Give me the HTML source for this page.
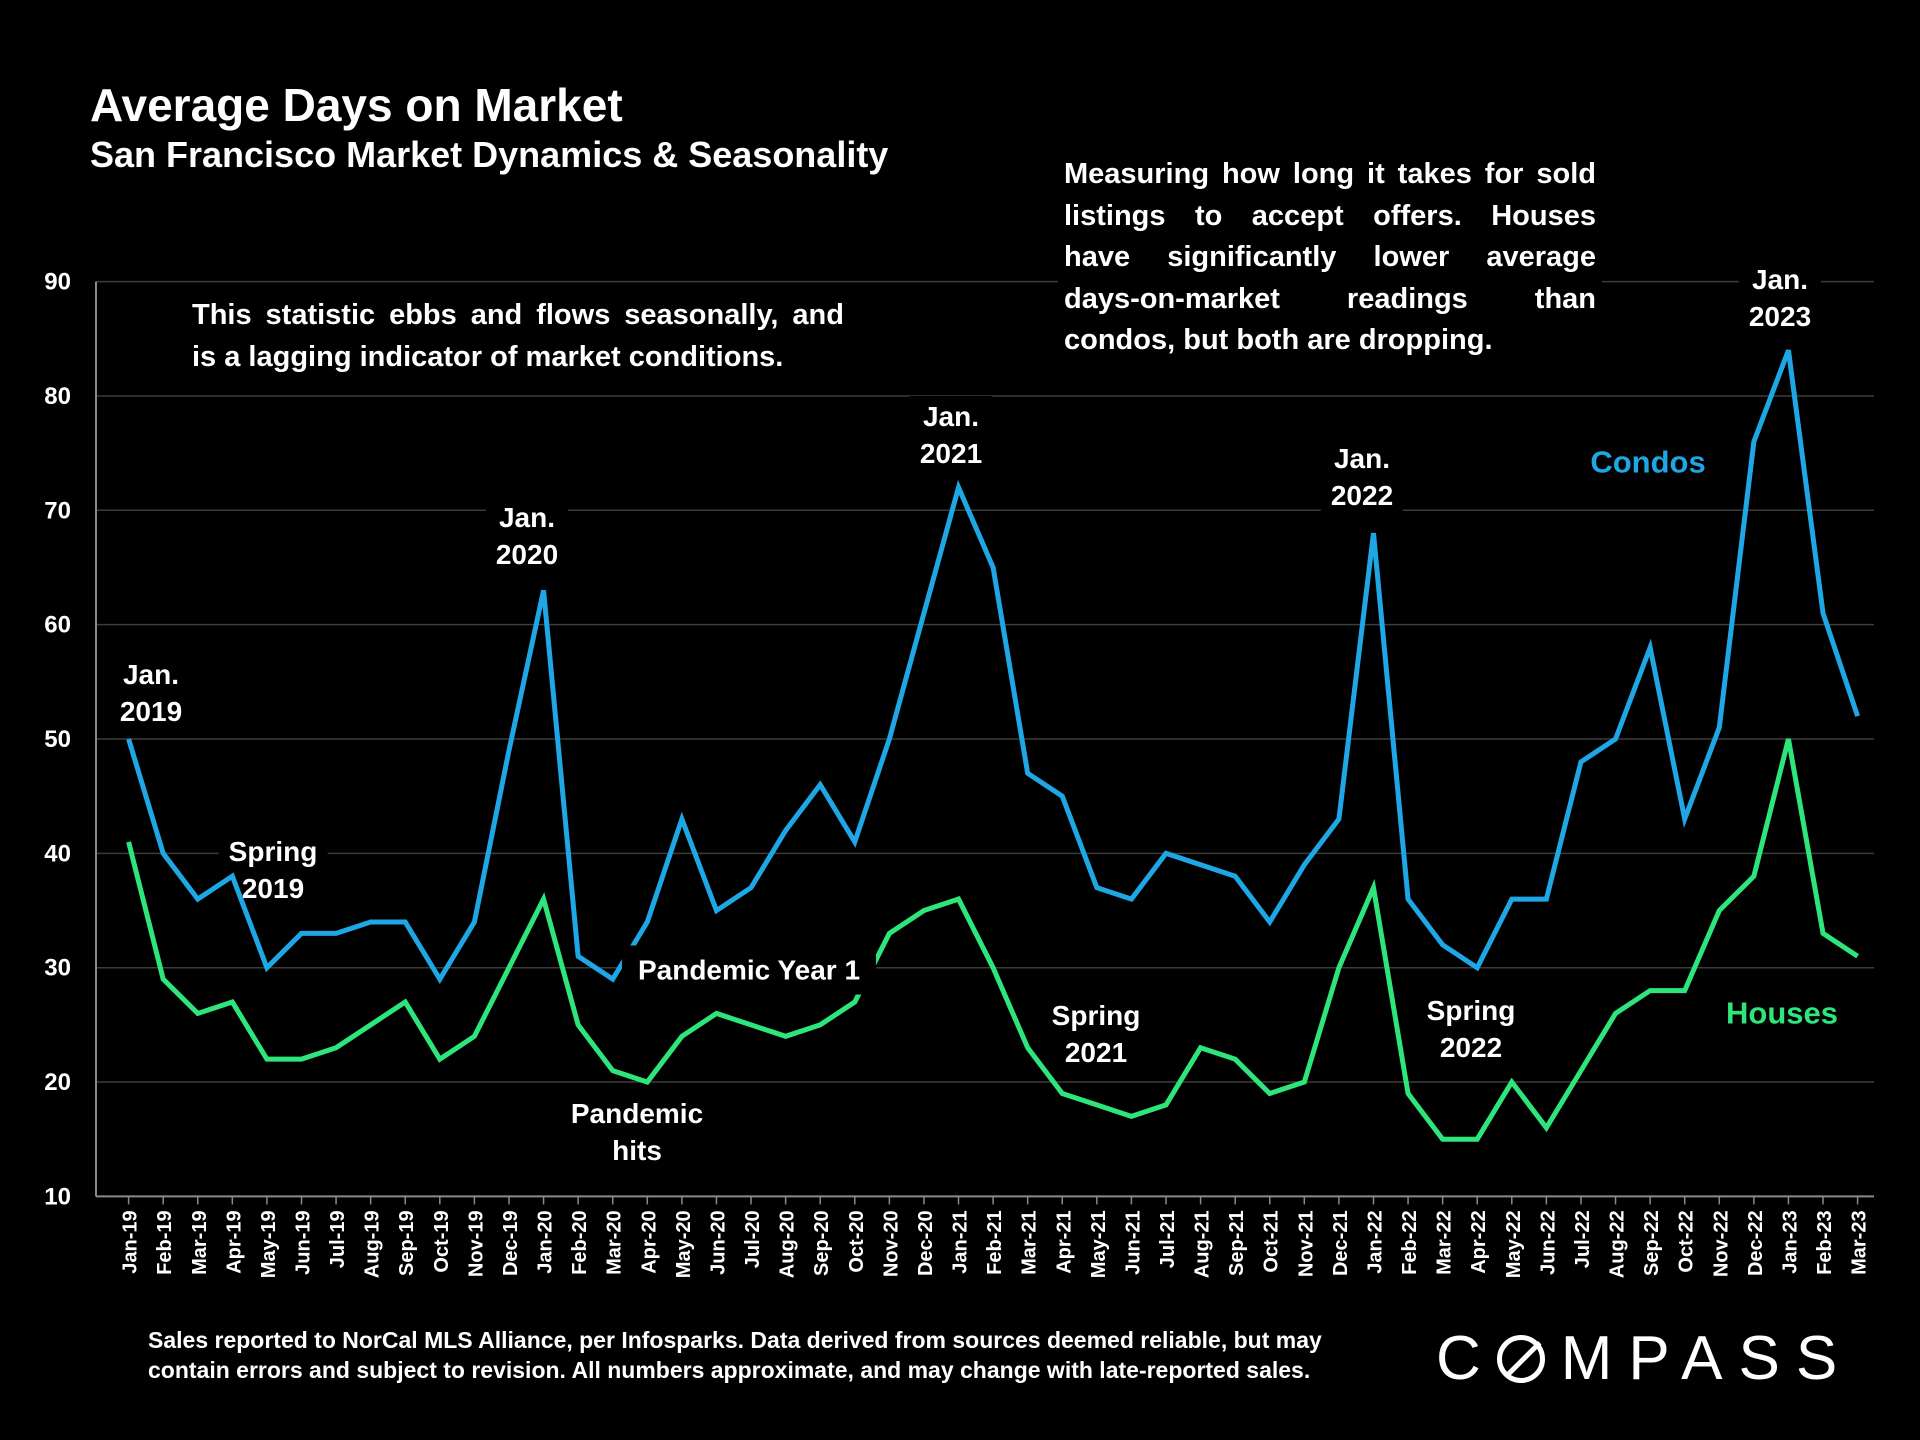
<!DOCTYPE html>
<html><head><meta charset="utf-8">
<style>
html,body{margin:0;padding:0;background:#000;}
#wrap{position:relative;width:1920px;height:1440px;background:#000;overflow:hidden;font-family:"Liberation Sans",sans-serif;color:#fff;}
.t{position:absolute;font-weight:bold;}
.lbl{position:absolute;transform:translate(-50%,-50%);background:#000;font-weight:bold;font-size:28px;line-height:37px;text-align:center;padding:2px 10px;white-space:nowrap;z-index:1;}
svg{position:absolute;left:0;top:0;}
#series{z-index:2;}
.jl{display:block;text-align:justify;text-align-last:justify;}
.ll{display:block;}
</style></head><body>
<div id="wrap">
<svg id="chart" width="1920" height="1440"></svg>
<svg id="series" width="1920" height="1440"></svg>
<div class="t" style="left:90px;top:78px;font-size:46px;">Average Days on Market</div>
<div class="t" style="left:90px;top:134px;font-size:36px;">San Francisco Market Dynamics &amp; Seasonality</div>
<div class="t" style="left:1058px;top:154px;width:532px;font-size:29px;line-height:41.6px;background:#000;padding:0 6px;z-index:1;"><span class="jl">Measuring how long it takes for sold</span><span class="jl">listings to accept offers. Houses</span><span class="jl">have significantly lower average</span><span class="jl">days-on-market readings than</span><span class="ll">condos, but both are dropping.</span></div>
<div class="t" style="left:186px;top:295px;width:652px;font-size:29px;line-height:41.6px;background:#000;padding:0 6px;z-index:1;"><span class="jl">This statistic ebbs and flows seasonally, and</span><span class="ll">is a lagging indicator of market conditions.</span></div>
<div class="lbl" style="left:151px;top:693px;">Jan.<br>2019</div>
<div class="lbl" style="left:273px;top:870px;">Spring<br>2019</div>
<div class="lbl" style="left:527px;top:536px;">Jan.<br>2020</div>
<div class="lbl" style="left:637px;top:1132px;">Pandemic<br>hits</div>
<div class="lbl" style="left:749px;top:970px;padding:6px 16px;z-index:3;">Pandemic Year 1</div>
<div class="lbl" style="left:951px;top:435px;">Jan.<br>2021</div>
<div class="lbl" style="left:1096px;top:1034px;">Spring<br>2021</div>
<div class="lbl" style="left:1362px;top:477px;">Jan.<br>2022</div>
<div class="lbl" style="left:1471px;top:1029px;">Spring<br>2022</div>
<div class="lbl" style="left:1780px;top:298px;">Jan.<br>2023</div>
<div class="lbl" style="left:1648px;top:462px;color:#1ea7e4;font-size:31px;">Condos</div>
<div class="lbl" style="left:1782px;top:1013px;color:#2ee57b;font-size:31px;">Houses</div>
<div class="t" style="left:148px;top:1325px;font-size:23px;line-height:30px;white-space:nowrap;">Sales reported to NorCal MLS Alliance, per Infosparks. Data derived from sources deemed reliable, but may<br>contain errors and subject to revision. All numbers approximate, and may change with late-reported sales.</div>
<div style="position:absolute;left:1436px;top:1326px;font-size:62px;letter-spacing:16px;line-height:66px;white-space:nowrap;">C<span style="display:inline-block;width:48px;height:48px;border:5px solid #fff;border-radius:50%;box-sizing:border-box;position:relative;vertical-align:-4px;margin-right:16px;"><span style="position:absolute;left:19px;top:-4px;width:5px;height:46px;background:#fff;transform:rotate(45deg);"></span></span>MPASS</div>
</div>
<script>
const months = ["Jan-19","Feb-19","Mar-19","Apr-19","May-19","Jun-19","Jul-19","Aug-19","Sep-19","Oct-19","Nov-19","Dec-19","Jan-20","Feb-20","Mar-20","Apr-20","May-20","Jun-20","Jul-20","Aug-20","Sep-20","Oct-20","Nov-20","Dec-20","Jan-21","Feb-21","Mar-21","Apr-21","May-21","Jun-21","Jul-21","Aug-21","Sep-21","Oct-21","Nov-21","Dec-21","Jan-22","Feb-22","Mar-22","Apr-22","May-22","Jun-22","Jul-22","Aug-22","Sep-22","Oct-22","Nov-22","Dec-22","Jan-23","Feb-23","Mar-23"];
const condos = [50,40,36,38,30,33,33,34,34,29,34,49,63,31,29,34,43,35,37,42,46,41,50,61,72,65,47,45,37,36,40,39,38,34,39,43,68,36,32,30,36,36,48,50,58,43,51,76,84,61,52];
const houses = [41,29,26,27,22,22,23,25,27,22,24,30,36,25,21,20,24,26,25,24,25,27,33,35,36,30,23,19,18,17,18,23,22,19,20,30,37,19,15,15,20,16,21,26,28,28,35,38,50,33,31];
const yTicks = [10,20,30,40,50,60,70,80,90];

const NS = "http://www.w3.org/2000/svg";
const svg = document.getElementById('chart');
const svgS = document.getElementById('series');
const X0 = 128.6, X1 = 1857.6, Y90 = 281.6, Y10 = 1196.4;
const xs = i => X0 + (X1 - X0) * i / (months.length - 1);
const ys = v => Y10 - (v - 10) / 80 * (Y10 - Y90);
function mk(tag, attrs, parent){const e=document.createElementNS(NS,tag);for(const k in attrs)e.setAttribute(k,attrs[k]);(parent||svg).appendChild(e);return e;}

yTicks.forEach(t=>{
  const g = mk('line',{x1:96,x2:1874,y1:ys(t),y2:ys(t),stroke:t===10?'#8a8a8a':'#3c3c3c','stroke-width':t===10?2:1.5});
  
  
  const tx = mk('text',{x:71,y:ys(t)+8,'text-anchor':'end',fill:'#fff','font-size':24,'font-weight':'bold','font-family':'Liberation Sans, sans-serif'});
  tx.textContent = t;
  
  
});
const ax = mk('line',{x1:96,x2:96,y1:Y90,y2:Y10,stroke:'#8a8a8a','stroke-width':2});



months.forEach((m,i)=>{
  const tk = mk('line',{x1:xs(i),x2:xs(i),y1:Y10,y2:Y10+8,stroke:'#8a8a8a','stroke-width':1.5});
  
  
  const tx = mk('text',{x:0,y:0,transform:`translate(${xs(i)+8},${Y10+14}) rotate(-90)`,'text-anchor':'end',fill:'#fff','font-size':20,'font-weight':'bold','font-family':'Liberation Sans, sans-serif'});
  tx.textContent = m;
  
  
});

function series(vals,color,name){
  const p = mk('polyline',{points:vals.map((v,i)=>xs(i)+','+ys(v)).join(' '),fill:'none',stroke:color,'stroke-width':5,'stroke-linejoin':'miter'}, svgS);
  
  
}
series(condos,'#1ea7e4','condos-line');
series(houses,'#2ee57b','houses-line');
</script>
</body></html>
